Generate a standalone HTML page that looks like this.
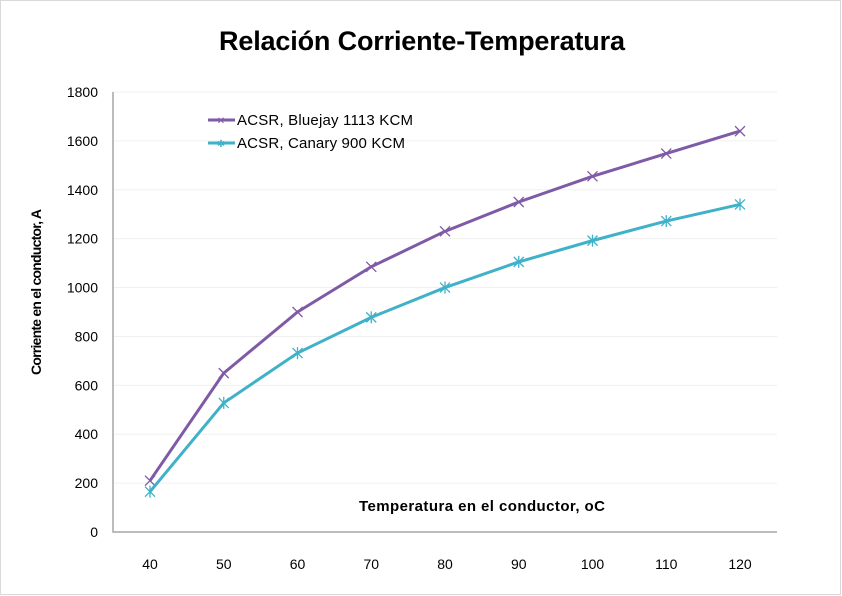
<!DOCTYPE html>
<html><head><meta charset="utf-8"><style>
body{margin:0;background:#fff;}
svg{display:block;font-family:"Liberation Sans",sans-serif;}
</style></head><body>
<svg id="c" width="842" height="596">
<rect x="0.5" y="0.5" width="840" height="594" fill="#fff" stroke="#d9d9d9"/>
<text x="422" y="50" text-anchor="middle" font-size="27" font-weight="bold" textLength="406">Relación Corriente-Temperatura</text>
<text transform="translate(41,292) rotate(-90)" text-anchor="middle" font-size="14" font-weight="bold" textLength="166">Corriente en el conductor, A</text>
<text x="482" y="511" text-anchor="middle" font-size="15" font-weight="bold" textLength="246">Temperatura en el conductor, oC</text>
<g id="grid"></g><g id="axes"></g><g id="series"></g>
<g>
<line x1="208" y1="120" x2="235" y2="120" stroke="#7f5aa6" stroke-width="3"/>
<text x="221" y="124" text-anchor="middle" font-size="10" fill="#7f5aa6">✕</text>
<text x="237" y="125" font-size="15" textLength="176">ACSR, Bluejay 1113 KCM</text>
<line x1="208" y1="143" x2="235" y2="143" stroke="#3fb1c8" stroke-width="3"/>
<text x="221" y="147" text-anchor="middle" font-size="10" fill="#3fb1c8">✱</text>
<text x="237" y="148" font-size="15" textLength="168">ACSR, Canary 900 KCM</text>
</g>
</svg>
<script>
const categories=[40,50,60,70,80,90,100,110,120];
const bluejay=[210,650,900,1085,1230,1350,1455,1548,1640];
const canary=[165,528,732,878,1000,1105,1192,1272,1340];
const yTicks=[0,200,400,600,800,1000,1200,1400,1600,1800];
const NS="http://www.w3.org/2000/svg";
const L=113,R=777,T=92,B=532;
const xs=i=>150+i*(740-150)/(categories.length-1);
const ys=v=>B-(v/1800)*(B-T);
function mk(tag,at,par){const e=document.createElementNS(NS,tag);for(const k in at)e.setAttribute(k,at[k]);document.getElementById(par).appendChild(e);return e;}
yTicks.forEach(v=>{
 if(v>0){const g=mk('line',{x1:L,x2:R,y1:ys(v),y2:ys(v),stroke:'#f0f0f0'},'grid');
 
 }
 const t=mk('text',{x:L-15,y:ys(v)+5,'text-anchor':'end','font-size':14},'axes');t.textContent=v;
 
 
});
categories.forEach((c,i)=>{const t=mk('text',{x:xs(i),y:569,'text-anchor':'middle','font-size':14},'axes');t.textContent=c;
 
 });
const ax=mk('path',{d:`M${L},${T} V${B} H${R}`,fill:'none',stroke:'#a6a6a6','stroke-width':1.5},'axes');


function series(vals,color,name,star){
 const p=mk('polyline',{points:vals.map((v,i)=>xs(i)+','+ys(v)).join(' '),fill:'none',stroke:color,'stroke-width':3,'stroke-linejoin':'round'},'series');
 
 
 vals.forEach((v,i)=>{const x=xs(i),y=ys(v);
  let d=`M${x-5},${y-5}L${x+5},${y+5}M${x-5},${y+5}L${x+5},${y-5}`;
  if(star)d+=`M${x},${y-6}V${y+6}`;
  const m=mk('path',{d:d,stroke:color,'stroke-width':1.3},'series');
  
  });
}
series(bluejay,'#7f5aa6','bluejay',false);
series(canary,'#3fb1c8','canary',true);
</script>
</body></html>
